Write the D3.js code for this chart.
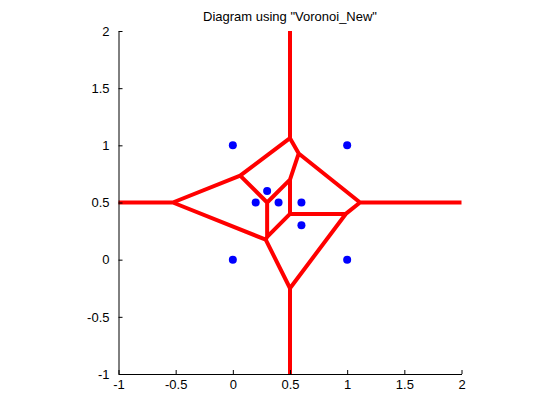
<!DOCTYPE html>
<html>
<head>
<meta charset="utf-8">
<script src="https://cdn.jsdelivr.net/npm/d3@7"></script>
<style>
  body { margin: 0; background: #fff; }
  text { font-family: "Liberation Sans", Arial, sans-serif; }
</style>
</head>
<body>
<div id="chart"></div>
<script>
var svgWidth = 560;
var svgHeight = 420;

// site coordinates
var xs = [0, 1, 0, 1, 0.2, 0.3, 0.4, 0.6, 0.6];
var ys = [1, 1, 0, 0, 0.5, 0.6, 0.5, 0.5, 0.3];
var xTicks = [-1, -0.5, 0, 0.5, 1, 1.5, 2];
var yTicks = [-1, -0.5, 0, 0.5, 1, 1.5, 2];

var points = xs.map(function(x, i) { return [x, ys[i]]; });

var svg = d3.select("#chart")
  .append("svg")
  .attr("width", svgWidth)
  .attr("height", svgHeight);

var xScale = d3.scaleLinear().domain([-1, 2]).range([118.5, 461.5]);
var yScale = d3.scaleLinear().domain([-1, 2]).range([374, 31]);

// voronoi edges, clipped to the axes box
var delaunay = d3.Delaunay.from(points, d => xScale(d[0]), d => yScale(d[1]));
var voronoi = delaunay.voronoi([xScale(-1), yScale(2), xScale(2), yScale(-1)]);

svg.append("path")
  .attr("d", voronoi.render())
  .attr("fill", "none")
  .attr("stroke", "#ff0000")
  .attr("stroke-width", 4);

svg.selectAll("circle")
  .data(points)
  .enter()
  .append("circle")
  .attr("cx", d => xScale(d[0]))
  .attr("cy", d => yScale(d[1]))
  .attr("r", 4)
  .attr("fill", "#0000ff");

// axes, ticks pointing inward, plain hyphen for negatives
var fmt = d => String(d);
var bottomAxis = d3.axisBottom(xScale).tickValues(xTicks).tickSizeInner(-4).tickSizeOuter(0).tickPadding(6)
  .tickFormat(fmt);
var leftAxis = d3.axisLeft(yScale).tickValues(yTicks).tickSizeInner(-4).tickSizeOuter(0).tickPadding(9)
  .tickFormat(fmt);

var gx = svg.append("g")
  .attr("transform", `translate(0, ${yScale(-1)})`)
  .call(bottomAxis);
var gy = svg.append("g")
  .attr("transform", `translate(${xScale(-1)}, 0)`)
  .call(leftAxis);

[gx, gy].forEach(function(g) {
  g.selectAll("text").attr("font-size", "13px").attr("fill", "#000")
    .attr("font-family", "'Liberation Sans', Arial, sans-serif");
  g.selectAll("line").attr("stroke", "#000");
  g.select(".domain").attr("stroke", "#000");
});

svg.append("text")
  .attr("x", (xScale(-1) + xScale(2)) / 2)
  .attr("y", 21)
  .attr("text-anchor", "middle")
  .attr("font-size", "13px")
  .text('Diagram using "Voronoi_New"');
</script>
</body>
</html>
